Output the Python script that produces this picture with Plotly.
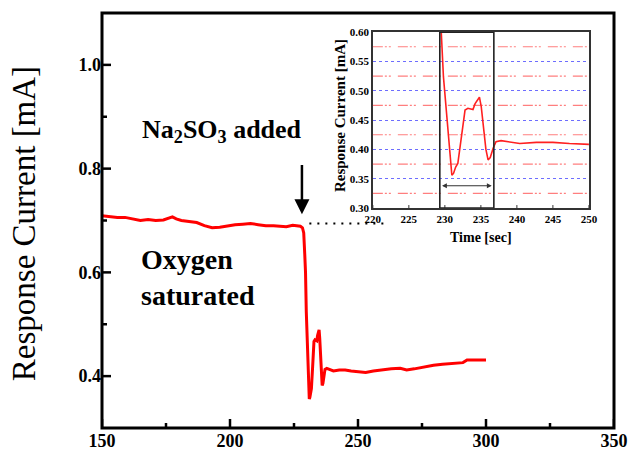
import plotly.graph_objects as go

# ---- data ----
time_s = [150, 153, 156, 159, 162, 165, 168, 171, 174, 176, 177.5, 179, 181, 184,
          187, 190, 193, 196, 199, 202, 205, 208, 211, 214, 217, 220, 222, 224.5,
          226.5, 227.5, 228.3, 228.8, 229.2, 229.5, 229.8, 230.1, 230.4, 230.7,
          230.97, 231.2, 231.5, 231.8, 232.3, 232.8, 233.2, 233.9, 234.2, 234.6,
          234.8, 235.05, 235.4, 235.7, 236.0, 236.3, 236.7, 237.1, 237.8, 239.4,
          240.4, 242.7, 245, 247.3, 250, 253, 256, 260, 263, 266.5, 269, 272,
          276, 279.5, 283, 287, 291, 292.6, 296, 300]
current_mA = [0.709, 0.707, 0.706, 0.706, 0.703, 0.700, 0.702, 0.700, 0.701, 0.705,
              0.707, 0.703, 0.700, 0.698, 0.696, 0.690, 0.686, 0.687, 0.690, 0.692,
              0.693, 0.694, 0.692, 0.690, 0.690, 0.689, 0.688, 0.691, 0.690, 0.689,
              0.686, 0.676, 0.635, 0.600, 0.524, 0.480, 0.433, 0.395,
              0.356, 0.359, 0.370, 0.376, 0.420, 0.467, 0.470, 0.468, 0.478, 0.487,
              0.489, 0.473, 0.433, 0.400, 0.382, 0.386, 0.402, 0.413, 0.415, 0.412,
              0.410, 0.412, 0.412, 0.410, 0.409, 0.407, 0.410, 0.413, 0.414, 0.415,
              0.412, 0.414, 0.418, 0.421, 0.423, 0.424, 0.426, 0.431, 0.431, 0.431]

main_x_ticks = [150, 200, 250, 300, 350]
main_x_minor = [175, 225, 275, 325]
main_y_ticks = [0.4, 0.6, 0.8, 1.0]
main_y_minor = [0.5, 0.7, 0.9]
inset_x_ticks = [220, 225, 230, 235, 240, 245, 250]
inset_y_ticks = [0.30, 0.35, 0.40, 0.45, 0.50, 0.55, 0.60]
inset_y_minor = [0.325, 0.375, 0.425, 0.475, 0.525, 0.575]

# annotation helpers
addition_time = 228.1
baseline_level = 0.694
baseline_span = [231, 260]
window_span = [229.3, 236.8]
window_arrow_span = [229.4, 236.5]
window_arrow_level = 0.338

INSET_X_DOM = [0.529, 0.951]
INSET_Y_DOM = [0.530, 0.954]
PLOT_W, PLOT_H = 512, 415

SERIF = "Liberation Serif, Times New Roman, serif"

fig = go.Figure()

fig.add_trace(go.Scatter(x=time_s, y=current_mA, mode="lines",
                         line=dict(color="#ff0000", width=3),
                         xaxis="x", yaxis="y", showlegend=False))
fig.add_trace(go.Scatter(x=baseline_span, y=[baseline_level, baseline_level],
                         mode="lines",
                         line=dict(color="black", width=2, dash="2px,6px"),
                         xaxis="x", yaxis="y", showlegend=False))
fig.add_trace(go.Scatter(x=time_s, y=current_mA, mode="lines",
                         line=dict(color="#ff2020", width=1.6),
                         xaxis="x2", yaxis="y2", showlegend=False))

tick_font_main = dict(family=SERIF, size=18, color="black", weight="bold")
tick_font_inset = dict(family=SERIF, size=11, color="black", weight="bold")

fig.update_layout(
    template="none",
    width=630, height=457,
    margin=dict(l=102, r=16, t=13, b=29, autoexpand=False),
    paper_bgcolor="white", plot_bgcolor="white",
    showlegend=False,
    xaxis=dict(range=[150, 350], tickmode="array", tickvals=main_x_ticks,
               ticktext=[str(v) for v in main_x_ticks], automargin=False,
               ticks="", showline=False, showgrid=False, zeroline=False,
               tickfont=tick_font_main),
    yaxis=dict(range=[0.3, 1.1], tickmode="array", tickvals=main_y_ticks,
               ticktext=["%.1f" % v for v in main_y_ticks], automargin=False,
               ticks="", showline=False, showgrid=False, zeroline=False,
               tickfont=tick_font_main),
    xaxis2=dict(domain=INSET_X_DOM, anchor="y2", range=[220, 250],
                tickmode="array", tickvals=inset_x_ticks, automargin=False,
                ticktext=[str(v) for v in inset_x_ticks],
                ticks="", showline=True, linewidth=1.5, linecolor="#333", mirror=True,
                showgrid=False, zeroline=False, tickfont=tick_font_inset),
    yaxis2=dict(domain=INSET_Y_DOM, anchor="x2", range=[0.30, 0.60],
                tickmode="array", tickvals=inset_y_ticks, automargin=False,
                ticktext=["%.2f" % v for v in inset_y_ticks],
                ticks="", showline=True, linewidth=1.5, linecolor="#333", mirror=True,
                showgrid=True, gridcolor="rgba(60,60,255,0.75)", gridwidth=1,
                griddash="dot", zeroline=False, tickfont=tick_font_inset),
)

# main frame
fig.add_shape(type="rect", xref="paper", yref="paper", x0=0, x1=1, y0=0, y1=1,
              line=dict(color="black", width=3), layer="above")
# main ticks (inside)
for xv in main_x_ticks:
    fig.add_shape(type="line", xref="x", yref="paper", x0=xv, x1=xv,
                  y0=0, y1=9 / PLOT_H, line=dict(color="black", width=2.5))
for xv in main_x_minor:
    fig.add_shape(type="line", xref="x", yref="paper", x0=xv, x1=xv,
                  y0=0, y1=5 / PLOT_H, line=dict(color="black", width=2.5))
for yv in main_y_ticks:
    fig.add_shape(type="line", xref="paper", yref="y", x0=0, x1=9 / PLOT_W,
                  y0=yv, y1=yv, line=dict(color="black", width=2.5))
for yv in main_y_minor:
    fig.add_shape(type="line", xref="paper", yref="y", x0=0, x1=5 / PLOT_W,
                  y0=yv, y1=yv, line=dict(color="black", width=2.5))

# inset small ticks on bottom axis
for xv in inset_x_ticks:
    fig.add_shape(type="line", xref="x2", yref="paper", x0=xv, x1=xv,
                  y0=INSET_Y_DOM[0], y1=INSET_Y_DOM[0] + 3 / PLOT_H,
                  line=dict(color="#333", width=1))

# inset minor grid (red dash-dot)
for yv in inset_y_minor:
    fig.add_shape(type="line", xref="paper", yref="y2",
                  x0=INSET_X_DOM[0], x1=INSET_X_DOM[1], y0=yv, y1=yv,
                  layer="above",
                  line=dict(color="rgba(255,40,40,0.6)", width=1.2,
                            dash="10px,2px,2px,2px,2px,7px"))

# inset window rectangle
fig.add_shape(type="rect", xref="x2", yref="y2",
              x0=window_span[0], x1=window_span[1], y0=0.30, y1=0.60,
              line=dict(color="#222", width=1.6), layer="above")

# double-headed arrow in inset
fig.add_annotation(xref="x2", yref="y2", axref="x2", ayref="y2",
                   x=window_arrow_span[1], y=window_arrow_level,
                   ax=window_arrow_span[0], ay=window_arrow_level,
                   text="", showarrow=True, arrowside="end+start",
                   arrowhead=2, arrowsize=0.8, arrowwidth=1.2, arrowcolor="#333")

# down arrow (Na2SO3 addition)
fig.add_annotation(xref="x", yref="y", axref="x", ayref="y",
                   x=addition_time, y=0.712, ax=addition_time, ay=0.81,
                   text="", showarrow=True, arrowhead=2, arrowsize=1.2,
                   arrowwidth=2.5, arrowcolor="black")

fig.add_annotation(xref="x", yref="y", x=164.8, y=0.872, xanchor="left",
                   yanchor="middle", showarrow=False,
                   text="Na<sub>2</sub>SO<sub>3</sub> added",
                   font=dict(family=SERIF, size=26, color="black", weight="bold"))

fig.add_annotation(xref="x", yref="y", x=164.5, y=0.590, xanchor="left",
                   yanchor="middle", align="left", showarrow=False,
                   text="Oxygen<br>saturated",
                   font=dict(family=SERIF, size=28, color="black", weight="bold"))

fig.add_annotation(xref="paper", yref="paper", x=-0.152, y=0.4916,
                   xanchor="center", yanchor="middle", textangle=-90,
                   showarrow=False, text="Response Current [mA]",
                   font=dict(family=SERIF, size=33, color="black"))

fig.add_annotation(xref="paper", yref="paper", x=0.4648, y=0.754,
                   xanchor="center", yanchor="middle", textangle=-90,
                   showarrow=False, text="Response Current [mA]",
                   font=dict(family=SERIF, size=15, color="black", weight="bold"))
fig.add_annotation(xref="paper", yref="paper", x=0.740, y=0.460,
                   xanchor="center", yanchor="middle", showarrow=False,
                   text="Time [sec]",
                   font=dict(family=SERIF, size=14, color="black", weight="bold"))

fig.write_html("out.html", config={"displayModeBar": False},
               post_script="document.body.style.margin='0px';")
